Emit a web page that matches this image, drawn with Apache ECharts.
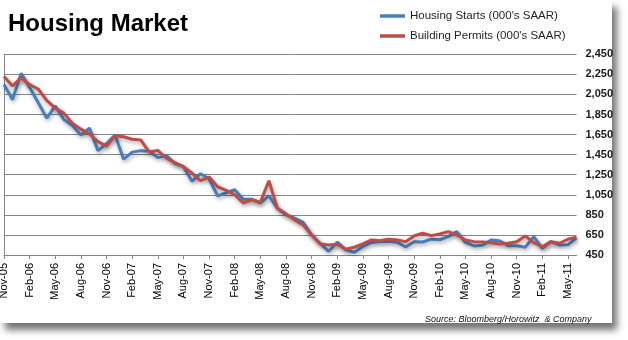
<!DOCTYPE html>
<html>
<head>
<meta charset="utf-8">
<script src="https://cdn.jsdelivr.net/npm/echarts@6/dist/echarts.min.js"></script>
<style>html,body{margin:0;padding:0;background:#fff}#c{width:628px;height:340px}</style>
</head>
<body>
<div id="c"></div>
<script>
var months = ['Nov-05','Dec-05','Jan-06','Feb-06','Mar-06','Apr-06','May-06','Jun-06','Jul-06','Aug-06','Sep-06','Oct-06',
'Nov-06','Dec-06','Jan-07','Feb-07','Mar-07','Apr-07','May-07','Jun-07','Jul-07','Aug-07','Sep-07','Oct-07',
'Nov-07','Dec-07','Jan-08','Feb-08','Mar-08','Apr-08','May-08','Jun-08','Jul-08','Aug-08','Sep-08','Oct-08',
'Nov-08','Dec-08','Jan-09','Feb-09','Mar-09','Apr-09','May-09','Jun-09','Jul-09','Aug-09','Sep-09','Oct-09',
'Nov-09','Dec-09','Jan-10','Feb-10','Mar-10','Apr-10','May-10','Jun-10','Jul-10','Aug-10','Sep-10','Oct-10',
'Nov-10','Dec-10','Jan-11','Feb-11','Mar-11','Apr-11','May-11','Jun-11'];

var housingStarts = [2150,2000,2260,2120,1970,1815,1935,1800,1740,1645,1715,1490,
1560,1645,1405,1475,1490,1485,1420,1440,1360,1330,1185,1260,
1210,1040,1070,1100,1005,1005,970,1040,915,850,818,775,
650,565,487,578,502,478,535,575,585,587,578,530,
583,580,608,602,633,683,575,540,548,600,592,543,
542,527,633,517,583,550,552,620];

var buildingPermits = [2230,2135,2215,2147,2104,1990,1914,1864,1764,1704,1657,1580,
1535,1637,1628,1603,1597,1476,1492,1414,1370,1330,1267,1190,
1227,1130,1095,1050,968,1000,975,1190,915,860,800,750,
650,560,550,557,507,527,560,600,593,607,600,583,
640,667,643,660,683,650,600,583,580,573,560,567,
583,640,573,533,583,567,607,627];

var yTicks = {min: 450, max: 2450, interval: 200};

var chart = echarts.init(document.getElementById('c'), null, {renderer: 'canvas'});
chart.setOption({
  animation: false,
  backgroundColor: '#ffffff',
  title: {
    text: 'Housing Market',
    left: 3, top: 7,
    textStyle: {fontFamily: 'Liberation Sans', fontWeight: 'bold', fontSize: 24, color: '#000'}
  },
  legend: {
    orient: 'vertical',
    left: 375, top: 5,
    itemWidth: 25, itemHeight: 14, itemGap: 8, itemTextGap: 4,
    icon: 'path://M0,0 L25,0 L25,3.5 L0,3.5 Z',
    textStyle: {fontFamily: 'Liberation Sans', fontSize: 11.5, color: '#1f1f1f'},
    data: ['Housing Starts (000\'s SAAR)', 'Building Permits (000\'s SAAR)']
  },
  graphic: [
    {type: 'rect', z: -100, silent: true, shape: {x: 0, y: 0, width: 612, height: 323},
     style: {fill: '#ffffff', shadowColor: 'rgba(0,0,0,0.55)', shadowBlur: 7, shadowOffsetX: 5, shadowOffsetY: 7}},
    {type: 'text', left: 425, top: 315,
     style: {text: 'Source: Bloomberg/Horowitz  & Company', font: 'italic 9px "Liberation Sans"', fill: '#111'}}
  ],
  grid: {left: 4, right: 51.5, top: 54.3, bottom: 85, containLabel: false, outerBoundsMode: 'none'},
  xAxis: {
    type: 'category',
    data: months,
    boundaryGap: false,
    axisLine: {show: true, lineStyle: {color: '#868686', width: 1}},
    axisTick: {show: true, interval: 2, length: 4, lineStyle: {color: '#868686'}},
    axisLabel: {interval: 2, rotate: 90, margin: 8, fontFamily: 'Liberation Sans', fontSize: 11, color: '#000'},
    splitLine: {show: false}
  },
  yAxis: [{
    type: 'value',
    position: 'right',
    min: yTicks.min, max: yTicks.max, interval: yTicks.interval,
    axisLine: {show: false},
    axisTick: {show: false},
    axisLabel: {margin: 9, fontFamily: 'Liberation Sans', fontWeight: 'bold', fontSize: 11, color: '#1a1a1a',
      formatter: function (v) { return v.toLocaleString('en-US'); }},
    splitLine: {show: true, lineStyle: {color: '#868686', width: 1}}
  }, {
    type: 'value',
    position: 'left',
    min: yTicks.min, max: yTicks.max, interval: yTicks.interval,
    axisLine: {show: true, lineStyle: {color: '#868686', width: 1}},
    axisTick: {show: false},
    axisLabel: {show: false},
    splitLine: {show: false}
  }],
  series: [{
    name: 'Housing Starts (000\'s SAAR)',
    type: 'line',
    data: housingStarts,
    symbol: 'none',
    color: '#4A7EBB',
    lineStyle: {width: 3, color: '#4A7EBB', shadowColor: 'rgba(0,0,0,0.35)', shadowBlur: 4, shadowOffsetX: 1, shadowOffsetY: 2}
  }, {
    name: 'Building Permits (000\'s SAAR)',
    type: 'line',
    data: buildingPermits,
    symbol: 'none',
    color: '#BE4B48',
    lineStyle: {width: 3, color: '#BE4B48', shadowColor: 'rgba(0,0,0,0.35)', shadowBlur: 4, shadowOffsetX: 1, shadowOffsetY: 2}
  }]
});
</script>
</body>
</html>
